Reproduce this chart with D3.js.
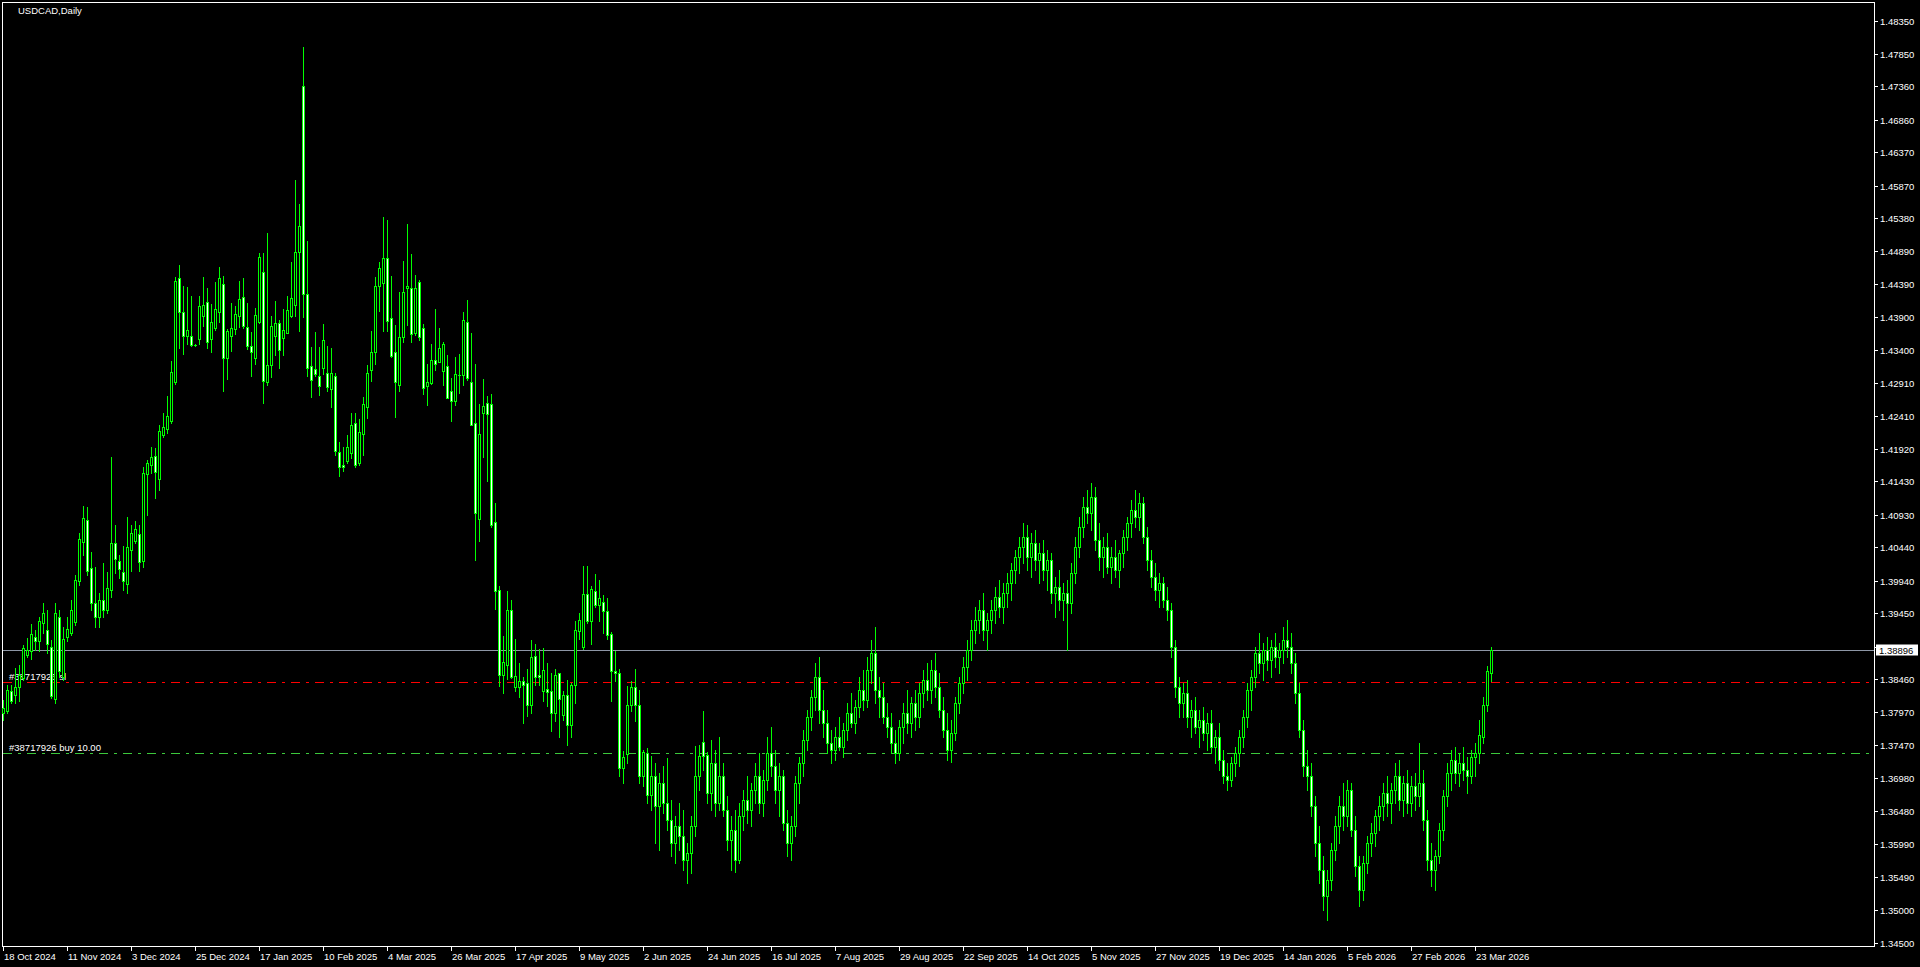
<!DOCTYPE html>
<html>
<head>
<meta charset="utf-8">
<script src="https://cdn.jsdelivr.net/npm/d3@7"></script>
<style>
  html, body { margin: 0; padding: 0; background: #000; overflow: hidden; }
  svg { display: block; }
  text { font-family: "Liberation Sans", Arial, sans-serif; font-size: 9.5px; fill: #fff; }
</style>
</head>
<body>
<div id="chart"></div>
<script>
// daily bars, [open, high, low, close]
var ohlc = [
  [1.3795,1.3815,1.3785,1.3803],[1.3798,1.3838,1.3795,1.3830],[1.3828,1.3838,1.3811,1.3814],[1.3823,1.3863,1.3810,1.3835],
  [1.3835,1.3868,1.3813,1.3853],[1.3848,1.3898,1.3845,1.3893],[1.3883,1.3908,1.3880,1.3890],[1.3889,1.3929,1.3876,1.3914],
  [1.3910,1.3920,1.3890,1.3903],[1.3903,1.3940,1.3889,1.3933],[1.3930,1.3960,1.3915,1.3945],[1.3920,1.3950,1.3885,1.3899],
  [1.3895,1.3905,1.3818,1.3821],[1.3816,1.3960,1.3810,1.3945],[1.3940,1.3950,1.3850,1.3858],[1.3850,1.3925,1.3845,1.3906],
  [1.3909,1.3940,1.3903,1.3921],[1.3915,1.3965,1.3912,1.3950],[1.3932,1.4002,1.3928,1.3995],[1.3993,1.4065,1.3987,1.4057],
  [1.4052,1.4106,1.4033,1.4088],[1.4085,1.4104,1.4003,1.4009],[1.4013,1.4037,1.3950,1.3960],[1.3960,1.4014,1.3925,1.3940],
  [1.3940,1.3975,1.3925,1.3965],[1.3965,1.4021,1.3940,1.3950],[1.3950,1.4007,1.3945,1.3983],[1.3980,1.4179,1.3970,1.4050],
  [1.4050,1.4078,1.4006,1.4027],[1.4023,1.4032,1.3998,1.4012],[1.4007,1.4046,1.3980,1.3994],[1.3989,1.4090,1.3975,1.4045],
  [1.4040,1.4077,1.4009,1.4066],[1.4054,1.4084,1.4050,1.4071],[1.4064,1.4078,1.4009,1.4022],[1.4024,1.4164,1.4014,1.4156],
  [1.4154,1.4175,1.4093,1.4171],[1.4167,1.4194,1.4155,1.4180],[1.4181,1.4193,1.4118,1.4157],[1.4146,1.4228,1.4130,1.4219],
  [1.4212,1.4246,1.4210,1.4225],[1.4221,1.4271,1.4216,1.4241],[1.4234,1.4324,1.4231,1.4307],[1.4293,1.4450,1.4290,1.4444],
  [1.4448,1.4468,1.4344,1.4397],[1.4397,1.4436,1.4335,1.4361],[1.4361,1.4435,1.4349,1.4370],[1.4361,1.4421,1.4346,1.4348],
  [1.4348,1.4350,1.4346,1.4348],[1.4357,1.4421,1.4350,1.4406],[1.4392,1.4450,1.4376,1.4408],[1.4412,1.4434,1.4344,1.4353],
  [1.4357,1.4410,1.4337,1.4382],[1.4373,1.4442,1.4370,1.4402],[1.4398,1.4465,1.4382,1.4448],[1.4439,1.4451,1.4279,1.4328],
  [1.4328,1.4372,1.4297,1.4369],[1.4361,1.4411,1.4339,1.4373],[1.4372,1.4406,1.4364,1.4394],[1.4392,1.4444,1.4375,1.4417],
  [1.4420,1.4449,1.4374,1.4377],[1.4375,1.4411,1.4342,1.4347],[1.4346,1.4367,1.4302,1.4338],[1.4328,1.4404,1.4320,1.4393],
  [1.4382,1.4486,1.4381,1.4480],[1.4457,1.4486,1.4260,1.4294],[1.4293,1.4516,1.4288,1.4318],[1.4318,1.4391,1.4300,1.4377],
  [1.4362,1.4414,1.4333,1.4381],[1.4381,1.4386,1.4314,1.4341],[1.4359,1.4402,1.4333,1.4371],[1.4366,1.4421,1.4366,1.4400],
  [1.4391,1.4472,1.4390,1.4419],[1.4408,1.4596,1.4392,1.4487],[1.4487,1.4560,1.4369,1.4526],[1.4737,1.4795,1.4390,1.4424],
  [1.4424,1.4504,1.4302,1.4313],[1.4317,1.4345,1.4269,1.4296],[1.4312,1.4367,1.4302,1.4304],[1.4302,1.4345,1.4273,1.4287],
  [1.4314,1.4380,1.4305,1.4355],[1.4306,1.4346,1.4279,1.4285],[1.4282,1.4344,1.4255,1.4306],[1.4301,1.4306,1.4183,1.4189],
  [1.4187,1.4202,1.4151,1.4165],[1.4167,1.4195,1.4159,1.4164],[1.4173,1.4212,1.4171,1.4194],[1.4186,1.4246,1.4178,1.4228],
  [1.4231,1.4246,1.4164,1.4168],[1.4170,1.4236,1.4168,1.4217],[1.4214,1.4269,1.4182,1.4259],[1.4254,1.4318,1.4238,1.4306],
  [1.4311,1.4369,1.4294,1.4337],[1.4337,1.4450,1.4320,1.4436],[1.4436,1.4473,1.4399,1.4464],[1.4441,1.4540,1.4369,1.4478],
  [1.4479,1.4535,1.4369,1.4384],[1.4388,1.4451,1.4330,1.4331],[1.4337,1.4378,1.4239,1.4293],[1.4288,1.4428,1.4279,1.4360],
  [1.4360,1.4474,1.4353,1.4428],[1.4434,1.4530,1.4378,1.4436],[1.4434,1.4485,1.4353,1.4365],[1.4366,1.4453,1.4363,1.4433],
  [1.4443,1.4446,1.4355,1.4360],[1.4374,1.4380,1.4274,1.4284],[1.4287,1.4319,1.4258,1.4293],[1.4291,1.4349,1.4290,1.4326],
  [1.4325,1.4402,1.4311,1.4319],[1.4323,1.4373,1.4323,1.4344],[1.4309,1.4353,1.4288,1.4349],[1.4317,1.4333,1.4268,1.4268],
  [1.4278,1.4298,1.4234,1.4264],[1.4264,1.4330,1.4258,1.4305],[1.4303,1.4334,1.4276,1.4303],[1.4303,1.4398,1.4288,1.4385],
  [1.4383,1.4415,1.4296,1.4299],[1.4292,1.4366,1.4227,1.4227],[1.4230,1.4319,1.4025,1.4095],[1.4087,1.4259,1.4053,1.4214],
  [1.4245,1.4297,1.4179,1.4256],[1.4260,1.4271,1.4143,1.4244],[1.4259,1.4274,1.4074,1.4078],[1.4082,1.4111,1.3951,1.3979],
  [1.3980,1.3986,1.3836,1.3852],[1.3853,1.3911,1.3826,1.3872],[1.3867,1.3979,1.3846,1.3950],[1.3950,1.3965,1.3848,1.3850],
  [1.3834,1.3907,1.3828,1.3851],[1.3834,1.3870,1.3819,1.3844],[1.3843,1.3850,1.3780,1.3838],[1.3840,1.3861,1.3791,1.3807],
  [1.3807,1.3905,1.3796,1.3879],[1.3881,1.3899,1.3838,1.3849],[1.3853,1.3891,1.3838,1.3849],[1.3828,1.3893,1.3814,1.3860],
  [1.3831,1.3871,1.3806,1.3827],[1.3829,1.3855,1.3768,1.3796],[1.3796,1.3861,1.3783,1.3853],[1.3855,1.3856,1.3759,1.3816],
  [1.3792,1.3829,1.3785,1.3823],[1.3823,1.3845,1.3748,1.3777],[1.3777,1.3840,1.3759,1.3838],[1.3837,1.3934,1.3811,1.3920],
  [1.3919,1.3946,1.3906,1.3935],[1.3894,1.4016,1.3892,1.3974],[1.3974,1.4016,1.3930,1.3934],[1.3934,1.3986,1.3899,1.3981],
  [1.3978,1.4004,1.3954,1.3958],[1.3957,1.3995,1.3934,1.3968],[1.3962,1.3973,1.3916,1.3949],[1.3948,1.3968,1.3906,1.3913],
  [1.3914,1.3917,1.3813,1.3858],[1.3858,1.3889,1.3844,1.3855],[1.3855,1.3861,1.3700,1.3712],[1.3712,1.3738,1.3690,1.3730],
  [1.3734,1.3836,1.3720,1.3808],[1.3807,1.3844,1.3799,1.3834],[1.3834,1.3862,1.3783,1.3807],[1.3807,1.3830,1.3690,1.3700],
  [1.3700,1.3740,1.3685,1.3737],[1.3735,1.3743,1.3660,1.3672],[1.3672,1.3731,1.3650,1.3700],[1.3700,1.3720,1.3600,1.3655],
  [1.3655,1.3705,1.3590,1.3690],[1.3690,1.3715,1.3645,1.3660],[1.3660,1.3728,1.3620,1.3635],[1.3635,1.3665,1.3580,1.3600],
  [1.3600,1.3640,1.3570,1.3625],[1.3625,1.3660,1.3590,1.3610],[1.3610,1.3650,1.3560,1.3575],[1.3575,1.3600,1.3540,1.3585],
  [1.3585,1.3640,1.3555,1.3625],[1.3625,1.3746,1.3610,1.3700],[1.3700,1.3748,1.3680,1.3731],[1.3752,1.3799,1.3710,1.3731],
  [1.3732,1.3737,1.3660,1.3675],[1.3675,1.3755,1.3650,1.3720],[1.3720,1.3740,1.3640,1.3660],[1.3660,1.3759,1.3650,1.3700],
  [1.3700,1.3720,1.3640,1.3650],[1.3650,1.3670,1.3590,1.3605],[1.3605,1.3640,1.3560,1.3620],[1.3620,1.3650,1.3556,1.3575],
  [1.3575,1.3660,1.3570,1.3640],[1.3640,1.3680,1.3620,1.3665],[1.3665,1.3700,1.3630,1.3650],[1.3650,1.3690,1.3625,1.3680],
  [1.3680,1.3720,1.3660,1.3700],[1.3700,1.3735,1.3645,1.3660],[1.3660,1.3710,1.3640,1.3695],[1.3695,1.3760,1.3680,1.3735],
  [1.3735,1.3775,1.3700,1.3715],[1.3715,1.3740,1.3660,1.3680],[1.3680,1.3720,1.3640,1.3700],[1.3700,1.3710,1.3620,1.3630],
  [1.3630,1.3650,1.3580,1.3600],[1.3600,1.3640,1.3575,1.3625],[1.3625,1.3700,1.3610,1.3690],[1.3690,1.3730,1.3660,1.3720],
  [1.3720,1.3770,1.3700,1.3755],[1.3755,1.3800,1.3740,1.3790],[1.3790,1.3830,1.3770,1.3820],[1.3820,1.3870,1.3800,1.3850],
  [1.3850,1.3880,1.3780,1.3800],[1.3800,1.3830,1.3760,1.3780],[1.3780,1.3800,1.3735,1.3750],[1.3750,1.3770,1.3720,1.3740],
  [1.3740,1.3775,1.3725,1.3760],[1.3760,1.3790,1.3740,1.3745],[1.3745,1.3780,1.3730,1.3770],[1.3770,1.3810,1.3755,1.3795],
  [1.3795,1.3825,1.3775,1.3780],[1.3780,1.3815,1.3765,1.3805],[1.3805,1.3850,1.3790,1.3830],[1.3830,1.3860,1.3800,1.3815],
  [1.3815,1.3880,1.3805,1.3860],[1.3860,1.3905,1.3840,1.3885],[1.3885,1.3925,1.3810,1.3830],[1.3830,1.3850,1.3790,1.3820],
  [1.3820,1.3840,1.3780,1.3790],[1.3790,1.3810,1.3760,1.3775],[1.3775,1.3795,1.3735,1.3750],[1.3750,1.3770,1.3720,1.3735],
  [1.3735,1.3785,1.3725,1.3775],[1.3775,1.3810,1.3750,1.3795],[1.3795,1.3830,1.3765,1.3780],[1.3780,1.3820,1.3760,1.3810],
  [1.3810,1.3830,1.3770,1.3790],[1.3790,1.3840,1.3775,1.3825],[1.3825,1.3860,1.3805,1.3845],[1.3845,1.3870,1.3815,1.3830],
  [1.3830,1.3875,1.3810,1.3860],[1.3860,1.3885,1.3820,1.3835],[1.3835,1.3855,1.3790,1.3800],[1.3800,1.3820,1.3760,1.3770],
  [1.3770,1.3795,1.3725,1.3740],[1.3740,1.3785,1.3722,1.3765],[1.3765,1.3820,1.3755,1.3810],[1.3810,1.3850,1.3795,1.3840],
  [1.3840,1.3880,1.3825,1.3865],[1.3865,1.3905,1.3845,1.3890],[1.3890,1.3935,1.3875,1.3920],[1.3920,1.3955,1.3900,1.3935],
  [1.3935,1.3965,1.3915,1.3950],[1.3950,1.3975,1.3905,1.3920],[1.3920,1.3945,1.3890,1.3935],[1.3935,1.3965,1.3915,1.3950],
  [1.3950,1.3985,1.3930,1.3970],[1.3970,1.3995,1.3940,1.3955],[1.3955,1.3990,1.3930,1.3975],[1.3975,1.4005,1.3955,1.3990],
  [1.3990,1.4020,1.3965,1.4010],[1.4010,1.4040,1.3990,1.4030],[1.4030,1.4060,1.4005,1.4045],[1.4045,1.4080,1.4020,1.4060],
  [1.4060,1.4078,1.4010,1.4030],[1.4030,1.4065,1.4000,1.4050],[1.4050,1.4070,1.4010,1.4025],[1.4025,1.4050,1.3990,1.4035],
  [1.4035,1.4055,1.3995,1.4010],[1.4010,1.4040,1.3980,1.4025],[1.4025,1.4035,1.3960,1.3975],[1.3975,1.4000,1.3940,1.3985],
  [1.3985,1.4010,1.3950,1.3965],[1.3965,1.3990,1.3935,1.3975],[1.3975,1.3995,1.3890,1.3960],[1.3960,1.4020,1.3945,1.4005],
  [1.4005,1.4060,1.3990,1.4045],[1.4045,1.4090,1.4030,1.4075],[1.4075,1.4120,1.4060,1.4105],[1.4105,1.4130,1.4080,1.4095],
  [1.4095,1.4140,1.4070,1.4120],[1.4120,1.4135,1.4040,1.4055],[1.4055,1.4080,1.4010,1.4030],[1.4030,1.4060,1.4000,1.4045],
  [1.4045,1.4065,1.4005,1.4015],[1.4015,1.4045,1.3990,1.4030],[1.4030,1.4055,1.4000,1.4010],[1.4010,1.4040,1.3985,1.4035],
  [1.4035,1.4070,1.4015,1.4060],[1.4060,1.4090,1.4040,1.4080],[1.4080,1.4115,1.4060,1.4100],[1.4100,1.4130,1.4075,1.4090],
  [1.4090,1.4125,1.4070,1.4110],[1.4110,1.4120,1.4050,1.4060],[1.4060,1.4075,1.4010,1.4025],[1.4025,1.4040,1.3985,1.4000],
  [1.4000,1.4020,1.3965,1.3980],[1.3980,1.4005,1.3955,1.3990],[1.3990,1.4000,1.3955,1.3965],[1.3965,1.3985,1.3935,1.3950],
  [1.3950,1.3960,1.3880,1.3895],[1.3895,1.3905,1.3820,1.3835],[1.3835,1.3850,1.3790,1.3810],[1.3810,1.3840,1.3790,1.3825],
  [1.3825,1.3845,1.3775,1.3790],[1.3790,1.3815,1.3760,1.3800],[1.3800,1.3820,1.3765,1.3775],[1.3775,1.3800,1.3745,1.3785],
  [1.3785,1.3805,1.3755,1.3765],[1.3765,1.3795,1.3740,1.3780],[1.3780,1.3800,1.3735,1.3745],[1.3745,1.3770,1.3720,1.3760],
  [1.3760,1.3780,1.3710,1.3725],[1.3725,1.3740,1.3690,1.3700],[1.3700,1.3720,1.3680,1.3695],[1.3695,1.3730,1.3685,1.3720],
  [1.3720,1.3745,1.3700,1.3735],[1.3735,1.3770,1.3715,1.3760],[1.3760,1.3800,1.3745,1.3790],[1.3790,1.3840,1.3775,1.3830],
  [1.3830,1.3860,1.3800,1.3850],[1.3850,1.3895,1.3835,1.3885],[1.3885,1.3915,1.3855,1.3870],[1.3870,1.3900,1.3845,1.3890],
  [1.3890,1.3910,1.3860,1.3875],[1.3875,1.3905,1.3850,1.3895],[1.3895,1.3915,1.3865,1.3880],[1.3880,1.3900,1.3855,1.3890],
  [1.3890,1.3925,1.3870,1.3905],[1.3905,1.3935,1.3880,1.3895],[1.3895,1.3915,1.3855,1.3870],[1.3870,1.3885,1.3810,1.3825],
  [1.3825,1.3840,1.3760,1.3770],[1.3770,1.3785,1.3700,1.3715],[1.3715,1.3740,1.3680,1.3700],[1.3700,1.3720,1.3640,1.3655],
  [1.3655,1.3670,1.3580,1.3600],[1.3600,1.3625,1.3540,1.3560],[1.3560,1.3580,1.3500,1.3520],[1.3520,1.3560,1.3485,1.3545],
  [1.3545,1.3600,1.3530,1.3590],[1.3590,1.3640,1.3575,1.3625],[1.3625,1.3670,1.3600,1.3655],[1.3655,1.3690,1.3620,1.3640],
  [1.3640,1.3695,1.3625,1.3680],[1.3680,1.3690,1.3610,1.3620],[1.3620,1.3640,1.3550,1.3565],[1.3565,1.3580,1.3505,1.3530],
  [1.3530,1.3580,1.3515,1.3570],[1.3570,1.3610,1.3555,1.3600],[1.3600,1.3630,1.3580,1.3615],[1.3615,1.3650,1.3595,1.3640],
  [1.3640,1.3670,1.3620,1.3655],[1.3655,1.3690,1.3635,1.3675],[1.3675,1.3700,1.3640,1.3660],[1.3660,1.3690,1.3630,1.3680],
  [1.3680,1.3720,1.3660,1.3700],[1.3700,1.3725,1.3650,1.3665],[1.3665,1.3700,1.3640,1.3690],[1.3690,1.3710,1.3645,1.3660],
  [1.3660,1.3700,1.3640,1.3685],[1.3685,1.3705,1.3650,1.3670],[1.3670,1.3750,1.3655,1.3690],[1.3690,1.3710,1.3620,1.3635],
  [1.3635,1.3650,1.3560,1.3575],[1.3575,1.3600,1.3535,1.3560],[1.3560,1.3590,1.3530,1.3580],[1.3580,1.3630,1.3570,1.3620],
  [1.3620,1.3680,1.3605,1.3670],[1.3670,1.3720,1.3655,1.3705],[1.3705,1.3740,1.3680,1.3725],[1.3725,1.3745,1.3690,1.3705],
  [1.3705,1.3735,1.3685,1.3720],[1.3720,1.3745,1.3695,1.3710],[1.3710,1.3730,1.3675,1.3700],[1.3700,1.3740,1.3690,1.3730],
  [1.3730,1.3750,1.3700,1.3735],[1.3735,1.3785,1.3720,1.3762],[1.3760,1.3820,1.3750,1.3808],[1.3808,1.3866,1.3799,1.3858],
  [1.3856,1.3895,1.3843,1.3890]
];

// time axis labels, one every 16 bars
var dateLabels = ["18 Oct 2024", "11 Nov 2024", "3 Dec 2024", "25 Dec 2024", "17 Jan 2025", "10 Feb 2025",
  "4 Mar 2025", "26 Mar 2025", "17 Apr 2025", "9 May 2025", "2 Jun 2025", "24 Jun 2025", "16 Jul 2025",
  "7 Aug 2025", "29 Aug 2025", "22 Sep 2025", "14 Oct 2025", "5 Nov 2025", "27 Nov 2025", "19 Dec 2025",
  "14 Jan 2026", "5 Feb 2026", "27 Feb 2026", "23 Mar 2026"];
var labelStep = 16;

// price axis labels
var priceTicks = ["1.48350", "1.47850", "1.47360", "1.46860", "1.46370", "1.45870", "1.45380", "1.44890",
  "1.44390", "1.43900", "1.43400", "1.42910", "1.42410", "1.41920", "1.41430", "1.40930", "1.40440",
  "1.39940", "1.39450", "1.38950", "1.38460", "1.37970", "1.37470", "1.36980", "1.36480", "1.35990",
  "1.35490", "1.35000", "1.34500"];

var symbolTitle = "USDCAD,Daily";
var bidPrice = 1.38896;
var slPrice = 1.38414;
var buyPrice = 1.37348;
var slLabel = "#38717926 sl";
var buyLabel = "#38717926 buy 10.00";

// canvas
var svgWidth = 1920;
var svgHeight = 967;
var frame = { left: 2, top: 2, right: 1874, bottom: 946 };

var svg = d3.select("#chart")
  .append("svg")
  .attr("width", svgWidth)
  .attr("height", svgHeight)
  .style("background", "#000");

// scales
var x = d3.scaleLinear()
  .domain([0, ohlc.length - 1])
  .range([3, 3 + 4 * (ohlc.length - 1)]);

var y = d3.scaleLinear()
  .domain([1.345, 1.4835])
  .range([943, 20.5]);

function py(v) { return Math.round(y(v)) + 0.5; }

// frame
svg.append("rect")
  .attr("x", frame.left + 0.5)
  .attr("y", frame.top + 0.5)
  .attr("width", frame.right - frame.left)
  .attr("height", frame.bottom - frame.top)
  .attr("fill", "none")
  .attr("stroke", "#fff")
  .attr("shape-rendering", "crispEdges");

// price axis
var priceAxis = svg.append("g");
priceAxis.selectAll("line")
  .data(priceTicks)
  .enter()
  .append("line")
  .attr("x1", frame.right)
  .attr("x2", frame.right + 4)
  .attr("y1", d => py(+d))
  .attr("y2", d => py(+d))
  .attr("stroke", "#fff")
  .attr("shape-rendering", "crispEdges");
priceAxis.selectAll("text")
  .data(priceTicks)
  .enter()
  .append("text")
  .attr("x", frame.right + 6)
  .attr("y", d => py(+d) + 3.5)
  .text(d => d);

// time axis
var timeAxis = svg.append("g");
timeAxis.selectAll("line")
  .data(dateLabels)
  .enter()
  .append("line")
  .attr("x1", (d, i) => Math.round(x(i * labelStep)) + 0.5)
  .attr("x2", (d, i) => Math.round(x(i * labelStep)) + 0.5)
  .attr("y1", frame.bottom)
  .attr("y2", frame.bottom + 5)
  .attr("stroke", "#fff")
  .attr("shape-rendering", "crispEdges");
timeAxis.selectAll("text")
  .data(dateLabels)
  .enter()
  .append("text")
  .attr("x", (d, i) => Math.round(x(i * labelStep)) + 1)
  .attr("y", frame.bottom + 14)
  .text(d => d);

// title
svg.append("text")
  .attr("x", 18)
  .attr("y", 14)
  .text(symbolTitle);

// trade levels (behind the bars)
function tradeLine(price, colour, label) {
  svg.append("line")
    .attr("x1", frame.left + 1)
    .attr("x2", frame.right - 5)
    .attr("y1", py(price))
    .attr("y2", py(price))
    .attr("stroke", colour)
    .attr("stroke-dasharray", "9,6,3,6")
    .attr("shape-rendering", "crispEdges");
  svg.append("text")
    .attr("x", 9)
    .attr("y", py(price) - 2.5)
    .text(label);
}
tradeLine(slPrice, "#ff0000", slLabel);
tradeLine(buyPrice, "#3cc83c", buyLabel);

// bid line
svg.append("line")
  .attr("x1", frame.left + 1)
  .attr("x2", frame.right)
  .attr("y1", py(bidPrice))
  .attr("y2", py(bidPrice))
  .attr("stroke", "#8e97a6")
  .attr("shape-rendering", "crispEdges");

// candles
var candles = svg.append("g")
  .attr("shape-rendering", "crispEdges");

var bar = candles.selectAll("g")
  .data(ohlc)
  .enter()
  .append("g");

bar.append("line")
  .attr("x1", (d, i) => Math.round(x(i)) + 0.5)
  .attr("x2", (d, i) => Math.round(x(i)) + 0.5)
  .attr("y1", d => Math.round(y(d3.max(d))))
  .attr("y2", d => Math.round(y(d3.min(d))) + 1)
  .attr("stroke", "#00ff00");

bar.each(function (d, i) {
  var cx = Math.round(x(i));
  var top = Math.round(y(Math.max(d[0], d[3])));
  var bot = Math.round(y(Math.min(d[0], d[3])));
  var g = d3.select(this);
  if (bot - top < 1) {
    g.append("line")
      .attr("x1", cx - 1)
      .attr("x2", cx + 2)
      .attr("y1", top + 0.5)
      .attr("y2", top + 0.5)
      .attr("stroke", "#00ff00");
  } else {
    g.append("rect")
      .attr("x", cx - 0.5)
      .attr("y", top + 0.5)
      .attr("width", 2)
      .attr("height", bot - top)
      .attr("fill", d[3] >= d[0] ? "#000" : "#fff")
      .attr("stroke", "#00ff00");
  }
});

// current price box on the axis
svg.append("rect")
  .attr("x", frame.right + 2)
  .attr("y", py(bidPrice) - 6)
  .attr("width", 42)
  .attr("height", 11)
  .attr("fill", "#fff");
svg.append("text")
  .attr("x", frame.right + 5)
  .attr("y", py(bidPrice) + 3.5)
  .style("fill", "#000")
  .text(bidPrice.toFixed(5));
</script>
</body>
</html>
